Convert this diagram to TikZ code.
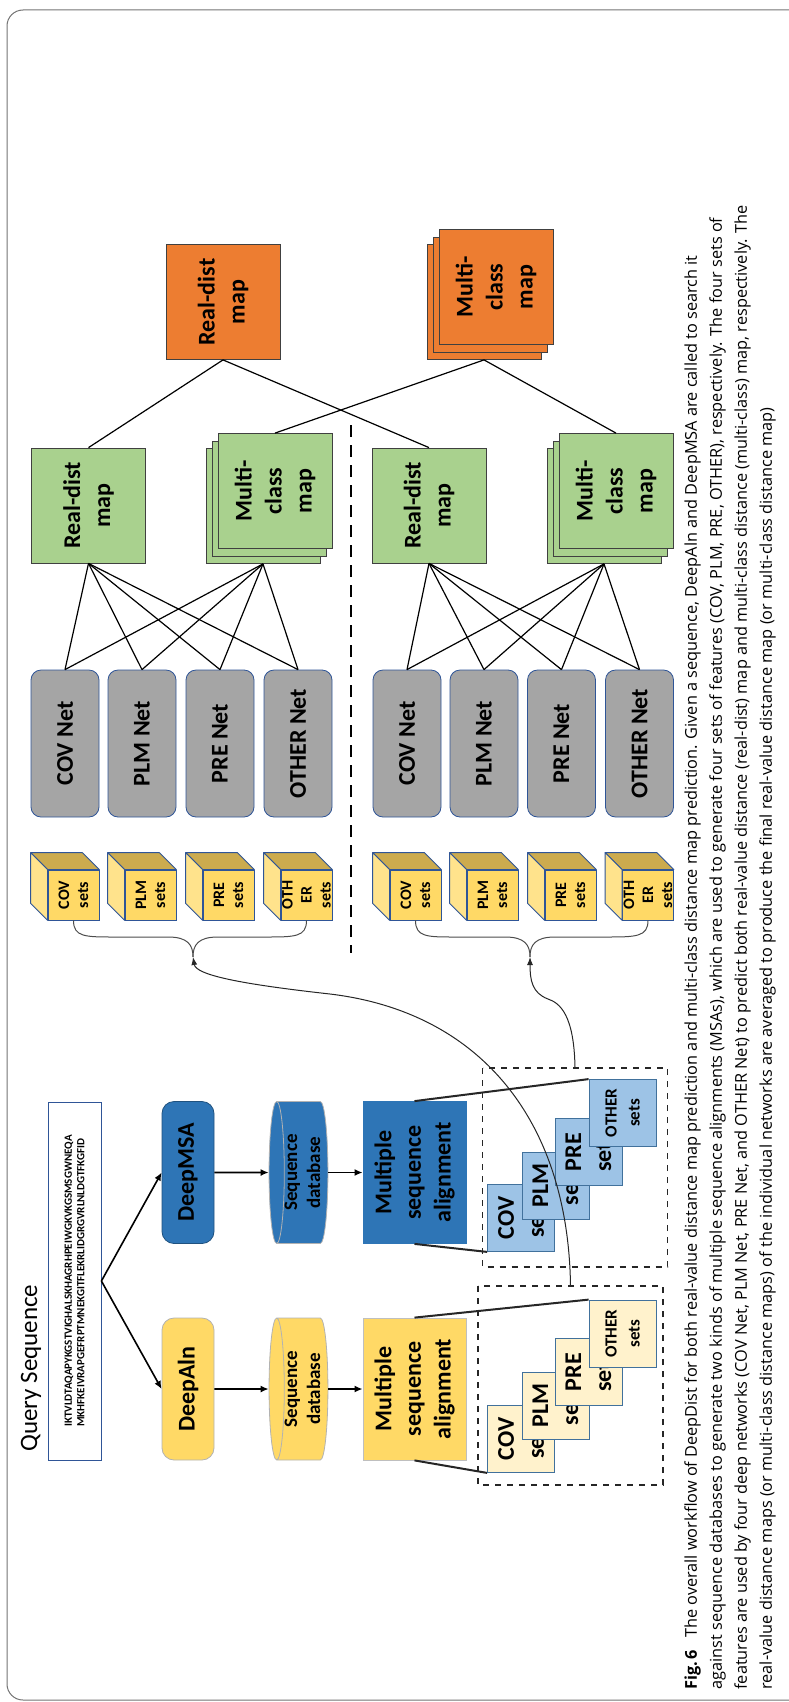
\documentclass[tikz,border=0pt]{standalone}
\usepackage{fontspec}
\setmainfont{Carlito}
\newfontfamily\capfont{Open Sans}
\usetikzlibrary{arrows.meta,calc,shapes.geometric}

\definecolor{alnyellow}{HTML}{FFD966}
\definecolor{msablue}{HTML}{2E75B6}
\definecolor{setyellow}{HTML}{FFF2CC}
\definecolor{setblue}{HTML}{9DC3E6}
\definecolor{cubetop}{HTML}{CCAB4E}
\definecolor{cubeside}{HTML}{FFE38C}
\definecolor{netgray}{HTML}{A5A5A5}
\definecolor{mapgreen}{HTML}{A9D18E}
\definecolor{maporange}{HTML}{ED7D31}
\definecolor{edgeblue}{HTML}{2F5597}
\definecolor{setedge}{HTML}{41719C}

\begin{document}
\begin{tikzpicture}[
    x=0.5pt, y=-0.5pt,
    seqbox/.style={
        rectangle, draw=edgeblue, rotate=90,
        minimum width=179pt, minimum height=26.5pt, inner sep=0pt,
        align=left, font=\bfseries\fontsize{5.5}{6.3}\selectfont
    },
    tool/.style={
        rectangle, rounded corners=6pt, draw=black!30, rotate=90,
        minimum width=71pt, minimum height=26pt, inner sep=0pt,
        font=\bfseries\fontsize{12}{14}\selectfont
    },
    db/.style={
        cylinder, shape border rotate=90, aspect=0.2, draw=black!30, rotate=90,
        minimum width=71pt, minimum height=23.5pt, inner sep=0pt,
        align=center, font=\bfseries\fontsize{9.5}{11.5}\selectfont
    },
    msa/.style={
        rectangle, draw=black!25, rotate=90,
        minimum width=71pt, minimum height=51.5pt, inner sep=0pt,
        align=center, font=\bfseries\fontsize{12}{14.8}\selectfont
    },
    dashbox/.style={
        rectangle, draw=black!85, dashed, line width=0.8pt, rotate=90,
        minimum width=99.5pt, minimum height=92.5pt
    },
    setbox/.style={
        rectangle, draw=setedge, rotate=90, minimum size=33.5pt, inner sep=0pt,
        align=center, font=\bfseries\fontsize{12}{15}\selectfont
    },
    cube/.style={
        rectangle, draw=edgeblue, fill=alnyellow, rotate=90,
        minimum width=25pt, minimum height=25.5pt, inner sep=0pt,
        align=center, font=\bfseries\fontsize{8}{9.5}\selectfont
    },
    face/.style={draw=edgeblue, line join=round},
    net/.style={
        rectangle, rounded corners=5pt, draw=edgeblue, fill=netgray, rotate=90,
        minimum width=73.5pt, minimum height=34pt, inner sep=0pt,
        font=\bfseries\fontsize{12}{14}\selectfont
    },
    map/.style={
        rectangle, draw=black!75, rotate=90,
        minimum width=57.5pt, minimum height=57pt, inner sep=0pt,
        align=center, font=\bfseries\fontsize{12}{15}\selectfont
    },
    link/.style={black, line width=0.6pt},
    zoomline/.style={black!85, line width=1pt},
    arr/.style={-{Latex[length=4pt,width=3.5pt]}, black, line width=0.8pt},
    brace/.style={black!70, line width=0.5pt},
    curvearr/.style={-{Latex[length=4pt,width=3pt]}, black!85, line width=0.5pt}
]

\useasboundingbox (0,0) rectangle (788,1702);
\draw[black!55, line width=0.5pt, rounded corners=8pt] (7,10) rectangle (830,1700);

% --- Query ---
\node[rotate=90, anchor=west, inner sep=0pt, font=\fontsize{12.5}{14}\selectfont] (qtitle) at (31,1452) {Query Sequence};
\node[seqbox] (query) at (74.5,1281) {IKTVLDTAQAPYKGSTVIGHALSKHAGRHPEIWGKVKGSMSGWNEQA\\MKHFKEIVRAPGEFRPTMNEKGITFLEKRLIDGRGVRLNLDGTFKGFID};

% --- DeepAln branch ---
\node[tool, fill=alnyellow] (toolA) at (188,1389) {DeepAln};
\node[db, fill=alnyellow] (dbA) at (302.5,1389) {Sequence\\database};
\node[msa, fill=alnyellow] (msaA) at (414.5,1389) {Multiple\\sequence\\alignment};

% --- DeepMSA branch ---
\node[tool, fill=msablue, draw=msablue!70!black] (toolB) at (188,1172.5) {DeepMSA};
\node[db, fill=msablue] (dbB) at (302.5,1172.5) {Sequence\\database};
\node[msa, fill=msablue, draw=msablue] (msaB) at (414.5,1172.5) {Multiple\\sequence\\alignment};

\draw[arr] (query.south) -- (toolA.north);
\draw[arr] (query.south) -- (toolB.north);
\draw[arr] (toolA) -- (dbA);
\draw[arr] (dbA) -- (msaA);
\draw[arr] (toolB) -- (dbB);
\draw[arr] (dbB) -- (msaB);

% --- Feature sets (zoom) ---
\node[dashbox] (alnbox) at (570.5,1385.5) {};
\node[dashbox] (msabox) at (575,1167.5) {};

\node[setbox, fill=setyellow] (setA1) at (521,1439) {COV\\sets};
\node[setbox, fill=setyellow] (setA2) at (555.5,1405.5) {PLM\\sets};
\node[setbox, fill=setyellow] (setA3) at (588.5,1372) {PRE\\sets};
\node[setbox, fill=setyellow, font=\bfseries\fontsize{8.5}{11.5}\selectfont] (setA4) at (622.5,1333.5) {OTHER\\sets};

\node[setbox, fill=setblue] (setB1) at (521,1218) {COV\\sets};
\node[setbox, fill=setblue] (setB2) at (555.5,1185.5) {PLM\\sets};
\node[setbox, fill=setblue] (setB3) at (588.5,1152) {PRE\\sets};
\node[setbox, fill=setblue, font=\bfseries\fontsize{8.5}{11.5}\selectfont] (setB4) at (622.5,1113) {OTHER\\sets};

\draw[zoomline] (msaA.east) -- (setA4.north east);
\draw[zoomline] (msaA.west) -- (setA1.north west);
\draw[zoomline] (msaB.east) -- (setB4.north east);
\draw[zoomline] (msaB.west) -- (setB1.north west);

% --- Feature cubes ---
\foreach \nm/\px/\lab in {cubeA1/73.5/{COV\\sets}, cubeA2/150.5/{PLM\\sets},
        cubeA3/228.5/{PRE\\sets}, cubeA4/306.5/{OTH\\ER\\sets},
        cubeB1/415.5/{COV\\sets}, cubeB2/492.5/{PLM\\sets},
        cubeB3/570.5/{PRE\\sets}, cubeB4/648/{OTH\\ER\\sets}}{
    \node[cube] (\nm) at (\px,895) {\lab};
    \filldraw[face, fill=cubetop] (\nm.north east) -- (\nm.south east) -- ++(-17,-17)
        -- ($(\nm.north east)+(-17,-17)$) -- cycle;
    \filldraw[face, fill=cubeside] (\nm.north east) -- (\nm.north west) -- ++(-17,-17)
        -- ($(\nm.north east)+(-17,-17)$) -- cycle;
}

\coordinate (tipA) at (193,957);
\coordinate (tipB) at (530,957);
\draw[brace] (cubeA1.west) .. controls (73.5,937) and (85,937) .. (115,937) -- (168,937)
    .. controls (188,937) and (193,945) .. (tipA);
\draw[brace] (cubeA4.west) .. controls (306.5,937) and (295,937) .. (265,937) -- (218,937)
    .. controls (198,937) and (193,945) .. (tipA);
\draw[brace] (cubeB1.west) .. controls (415.5,937) and (427,937) .. (455,937) -- (505,937)
    .. controls (525,937) and (530,945) .. (tipB);
\draw[brace] (cubeB4.west) .. controls (648,937) and (636,937) .. (605,937) -- (555,937)
    .. controls (535,937) and (530,945) .. (tipB);

\draw[curvearr] (alnbox.east) .. controls (568,1120) and (480,1012) .. (330,994)
    .. controls (240,984) and (196,975) .. (tipA);
\draw[curvearr] (msabox.east) .. controls (574,1015) and (560,1003) .. (548,999)
    .. controls (532,993) and (530,980) .. (tipB);

% --- Nets ---
\foreach \nm/\px/\lab in {netA1/65/COV Net, netA2/142/PLM Net, netA3/220/PRE Net,
        netA4/298/OTHER Net, netB1/407/COV Net, netB2/484/PLM Net,
        netB3/561.5/PRE Net, netB4/639.5/OTHER Net}
    \node[net] (\nm) at (\px,743.5) {\lab};

% --- Maps ---
\node[map, fill=mapgreen] (rdA) at (88.5,505.5) {Real-dist\\map};
\node[map, fill=mapgreen] (mcA3) at (263,506) {};
\node[map, fill=mapgreen] (mcA2) at (269,498.5) {};
\node[map, fill=mapgreen] (mcA) at (275,491) {Multi-\\class\\map};
\node[map, fill=mapgreen] (rdB) at (429,505.5) {Real-dist\\map};
\node[map, fill=mapgreen] (mcB3) at (604,506) {};
\node[map, fill=mapgreen] (mcB2) at (610,498.5) {};
\node[map, fill=mapgreen] (mcB) at (616,491) {Multi-\\class\\map};

\node[map, fill=maporange] (rdF) at (223,302) {Real-dist\\map};
\node[map, fill=maporange] (mcF3) at (484,302) {};
\node[map, fill=maporange] (mcF2) at (490,294.5) {};
\node[map, fill=maporange] (mcF) at (496,287) {Multi-\\class\\map};

\foreach \n in {netA1,netA2,netA3,netA4}{
    \draw[link] (\n.east) -- (rdA.west);
    \draw[link] (\n.east) -- (mcA3.west);
}
\foreach \n in {netB1,netB2,netB3,netB4}{
    \draw[link] (\n.east) -- (rdB.west);
    \draw[link] (\n.east) -- (mcB3.west);
}
\draw[link] (rdA.east) -- (rdF.west);
\draw[link] (rdB.east) -- (rdF.west);
\draw[link] (mcA.east) -- (mcF3.west);
\draw[link] (mcB.east) -- (mcF3.west);

% --- Divider ---
\coordinate (divtop) at (351,425);
\coordinate (divbot) at (351,953);
\draw[black, line width=1.4pt, dash pattern=on 6pt off 4pt] (divtop) -- (divbot);

% --- Caption ---
\node[rotate=90, anchor=north west, inner sep=0pt, align=left,
      font=\capfont\fontsize{8.15}{12.5}\selectfont] (cap) at (684,1690) {%
\textbf{Fig.\,6}\hspace{6pt}The overall workflow of DeepDist for both real-value distance map prediction and multi-class distance map prediction. Given a sequence, DeepAln and DeepMSA are called to search it\\
against sequence databases to generate two kinds of multiple sequence alignments (MSAs), which are used to generate four sets of features (COV, PLM, PRE, OTHER), respectively. The four sets of\\
features are used by four deep networks (COV Net, PLM Net, PRE Net, and OTHER Net) to predict both real-value distance (real-dist) map and multi-class distance (multi-class) map, respectively. The\\
real-value distance maps (or multi-class distance maps) of the individual networks are averaged to produce the final real-value distance map (or multi-class distance map)};

\end{tikzpicture}
\end{document}
